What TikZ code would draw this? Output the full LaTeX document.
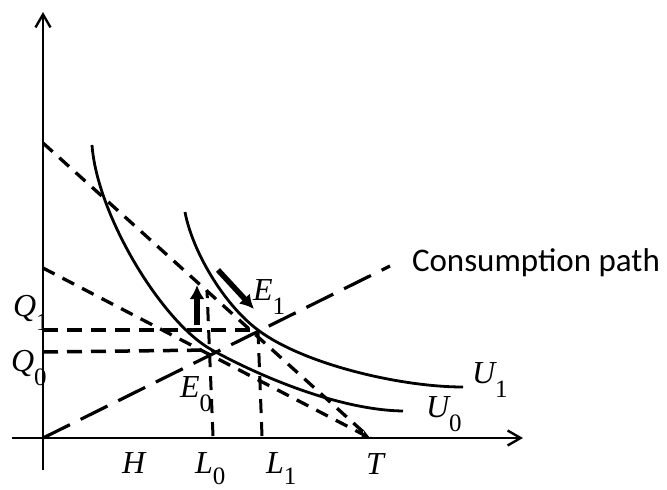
\documentclass[tikz,border=0pt]{standalone}
\usepackage{fontspec}
\setmainfont{Liberation Serif}
\newfontfamily\calib{Carlito}
\usetikzlibrary{arrows.meta}
\newcommand{\lbl}[3][14pt]{{\fontsize{32}{32}\selectfont\itshape #2}\raisebox{-#1}{\fontsize{25}{25}\selectfont #3}}
\begin{document}
\begin{tikzpicture}[x=1pt,y=-1pt,
  axis/.style={line width=2.2pt,-{Straight Barb[length=13pt,width=15pt,line width=2.4pt]}},
  budget/.style={line width=3.3pt,dash pattern=on 13pt off 9pt},
  guide/.style={line width=3.5pt,dash pattern=on 15pt off 9pt},
  vguide/.style={line width=3pt,dash pattern=on 14pt off 9pt},
  cpath/.style={line width=3.2pt,dash pattern=on 30pt off 12pt},
  indiff/.style={line width=2.8pt},
  bigarrow/.style={line width=5.5pt,-{Latex[length=14pt,width=15pt]}},
  lab/.style={anchor=base west,inner sep=0pt,outer sep=0pt}]
\useasboundingbox (0,0) rectangle (667,490);
% key points
\coordinate (O) at (43,438);
\coordinate (Ybot) at (43,470);
\coordinate (Ytop) at (43,12);
\coordinate (Xbeg) at (12,438);
\coordinate (Xend) at (523,438);
\coordinate (T) at (370,438);
\coordinate (A) at (43,143);
\coordinate (B) at (43,268);
\coordinate (E0) at (212,350);
\coordinate (E1) at (258,330);
\coordinate (L0b) at (213,436);
\coordinate (L0t) at (207,290);
\coordinate (L1b) at (262,436);
\coordinate (Q0) at (43,352);
\coordinate (Q1) at (43,330);
\coordinate (Cend) at (390,266);
\coordinate (U0s) at (92,145);
\coordinate (U0e) at (403,411);
\coordinate (U1s) at (185,212);
\coordinate (U1e) at (463,387);
% axes
\draw[axis] (Ybot) -- (Ytop);
\draw[axis] (Xbeg) -- (Xend);
% budget lines
\draw[budget] (A) -- (T);
\draw[budget,-{Stealth[length=9pt,width=8pt]}] (B) -- (T);
% guide lines
\draw[guide] (Q1) -- (E1);
\draw[guide] (Q0) -- (E0);
\draw[vguide] (L0b) -- (L0t);
\draw[vguide] (L1b) -- (E1);
% consumption path
\draw[cpath] (O) -- (Cend);
% indifference curves
\draw[indiff] (U0s) .. controls (97,215) and (162,322.5) .. (E0)
  .. controls (262,377.5) and (340,410) .. (U0e);
\draw[indiff] (U1s) .. controls (192,250) and (223,304) .. (E1)
  .. controls (303,364) and (400,387) .. (U1e);
% thick arrows
\coordinate (UpA) at (197,325);
\coordinate (UpB) at (197,285);
\coordinate (DgA) at (218,270);
\coordinate (DgB) at (254,309);
\draw[bigarrow] (UpA) -- (UpB);
\draw[bigarrow] (DgA) -- (DgB);
% labels
\node[lab] (q1) at (13,316) {\lbl{Q}{1}};
\node[lab] (q0) at (11,371) {\lbl{Q}{0}};
\node[lab] (e0) at (180,397) {\lbl{E}{0}};
\node[lab] (e1) at (253,300) {\lbl{E}{1}};
\node[lab] (h) at (122,473) {\lbl{H}{}};
\node[lab] (l0) at (195,473) {\lbl[11pt]{L}{0}};
\node[lab] (l1) at (266,473) {\lbl[11pt]{L}{1}};
\node[lab] (t) at (366,474) {\lbl{T}{}};
\node[lab] (u0) at (426,417) {\lbl{U}{0}};
\node[lab] (u1) at (472,383) {\lbl{U}{1}};
\node[lab] (cp) at (412,271) {\calib\fontsize{33}{33}\selectfont Consumption path};
\end{tikzpicture}
\end{document}
